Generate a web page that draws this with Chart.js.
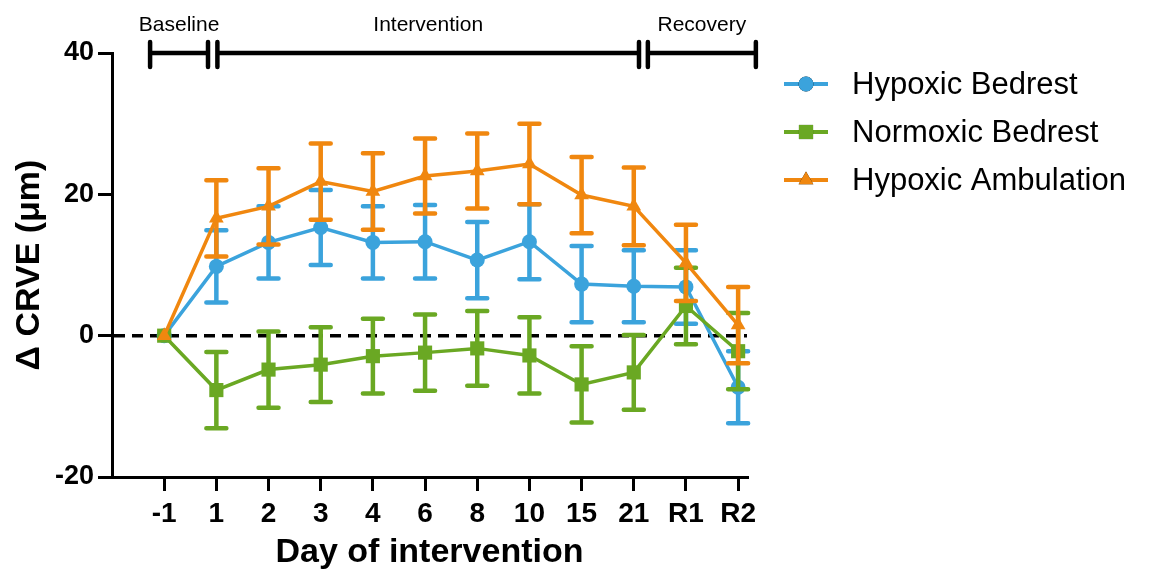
<!DOCTYPE html>
<html>
<head>
<meta charset="utf-8">
<script src="https://cdn.jsdelivr.net/npm/chart.js"></script>
<style>
  html, body { margin: 0; padding: 0; background: #fff; }
  #wrap { width: 1165px; height: 575px; }
</style>
</head>
<body>
<div id="wrap"><canvas id="myChart" width="1165" height="575"></canvas></div>
<script>
// days on the x axis
const days = ['-1', '1', '2', '3', '4', '6', '8', '10', '15', '21', 'R1', 'R2'];

// mean change and error per group
const hypoxicBedrest = [0, 9.8, 13.2, 15.3, 13.2, 13.3, 10.7, 13.3, 7.3, 7.0, 6.9, -7.3];
const hypoxicBedrestErr = [0, 5.1, 5.1, 5.3, 5.1, 5.2, 5.4, 5.3, 5.4, 5.1, 5.2, 5.1];
const normoxicBedrest = [0, -7.7, -4.8, -4.1, -2.9, -2.4, -1.8, -2.8, -6.9, -5.2, 4.2, -2.2];
const normoxicBedrestErr = [0, 5.4, 5.4, 5.3, 5.3, 5.4, 5.3, 5.4, 5.4, 5.3, 5.4, 5.4];
const hypoxicAmbulation = [0, 16.6, 18.3, 21.8, 20.4, 22.6, 23.3, 24.3, 19.9, 18.3, 10.3, 1.5];
const hypoxicAmbulationErr = [0, 5.4, 5.4, 5.4, 5.4, 5.3, 5.3, 5.7, 5.4, 5.5, 5.4, 5.4];

// y ticks
const yTicks = [-20, 0, 20, 40];

// study phases (in x axis units)
const phases = ['Baseline', 'Intervention', 'Recovery'];
const phaseFrom = [-0.27, 1.02, 9.27];
const phaseTo = [0.84, 9.1, 11.34];

const FONT = '"Liberation Sans", Arial, Helvetica, sans-serif';
const BLUE = '#3ba3dc';
const GREEN = '#6aa823';
const ORANGE = '#f0870f';

const toPoints = vals => vals.map((v, i) => ({x: i, y: v}));

const data = {
  datasets: [{
    label: 'Hypoxic Bedrest',
    data: toPoints(hypoxicBedrest),
    errors: hypoxicBedrestErr,
    borderColor: BLUE,
    backgroundColor: BLUE,
    pointStyle: 'circle',
    pointRadius: 7.5,
    order: 2
  }, {
    label: 'Normoxic Bedrest',
    data: toPoints(normoxicBedrest),
    errors: normoxicBedrestErr,
    borderColor: GREEN,
    backgroundColor: GREEN,
    pointStyle: 'rect',
    pointRadius: 10,
    order: 1
  }, {
    label: 'Hypoxic Ambulation',
    data: toPoints(hypoxicAmbulation),
    errors: hypoxicAmbulationErr,
    borderColor: ORANGE,
    backgroundColor: ORANGE,
    pointStyle: 'triangle',
    pointRadius: 8.5,
    order: 0
  }]
};

// error bars, drawn under each dataset's line
const errorBars = {
  id: 'errorBars',
  beforeDatasetDraw(chart, args) {
    const ds = chart.data.datasets[args.index];
    const y = chart.scales.y;
    const ctx = chart.ctx;
    ctx.save();
    ctx.strokeStyle = ds.borderColor;
    ctx.lineWidth = 4.5;
    ctx.lineCap = 'round';
    args.meta.data.forEach((pt, i) => {
      const e = ds.errors[i];
      if (!e) return;
      const v = ds.data[i].y;
      const top = y.getPixelForValue(v + e);
      const bot = y.getPixelForValue(v - e);
      ctx.beginPath();
      ctx.moveTo(pt.x, top); ctx.lineTo(pt.x, bot);
      ctx.moveTo(pt.x - 10, top); ctx.lineTo(pt.x + 10, top);
      ctx.moveTo(pt.x - 10, bot); ctx.lineTo(pt.x + 10, bot);
      ctx.stroke();
    });
    ctx.restore();
  }
};

// dashed zero line
const zeroLine = {
  id: 'zeroLine',
  beforeDatasetsDraw(chart) {
    const {ctx, chartArea} = chart;
    const y0 = chart.scales.y.getPixelForValue(0);
    ctx.save();
    ctx.strokeStyle = '#000';
    ctx.lineWidth = 3.5;
    ctx.setLineDash([11, 7]);
    ctx.beginPath();
    ctx.moveTo(chartArea.left + 2, y0);
    ctx.lineTo(chartArea.right, y0);
    ctx.stroke();
    ctx.restore();
  }
};

// phase bars across the top
const phaseBars = {
  id: 'phaseBars',
  afterDraw(chart) {
    const ctx = chart.ctx;
    const xs = chart.scales.x;
    const yp = chart.scales.y.getPixelForValue(40);
    ctx.save();
    ctx.strokeStyle = '#000';
    ctx.fillStyle = '#000';
    ctx.lineWidth = 4.5;
    ctx.lineCap = 'round';
    ctx.font = '21px ' + FONT;
    ctx.textAlign = 'center';
    ctx.textBaseline = 'middle';
    phases.forEach((name, i) => {
      const x1 = xs.getPixelForValue(phaseFrom[i]);
      const x2 = xs.getPixelForValue(phaseTo[i]);
      ctx.beginPath();
      ctx.moveTo(x1, yp); ctx.lineTo(x2, yp);
      ctx.moveTo(x1, yp - 11); ctx.lineTo(x1, yp + 14);
      ctx.moveTo(x2, yp - 11); ctx.lineTo(x2, yp + 14);
      ctx.stroke();
      ctx.fillText(name, (x1 + x2) / 2, yp - 28);
    });
    ctx.restore();
  }
};

// legend on the right
const sideLegend = {
  id: 'sideLegend',
  afterDraw(chart) {
    const ctx = chart.ctx;
    ctx.save();
    ctx.font = '31px ' + FONT;
    ctx.textBaseline = 'middle';
    chart.data.datasets.forEach((ds, i) => {
      const y = 84 + i * 48;
      ctx.strokeStyle = ds.borderColor;
      ctx.lineWidth = 4;
      ctx.beginPath();
      ctx.moveTo(784, y); ctx.lineTo(828, y);
      ctx.stroke();
      Chart.helpers.drawPoint(ctx, {
        pointStyle: ds.pointStyle,
        radius: ds.pointRadius,
        rotation: 0,
        borderWidth: 0
      }, 806, y);
      ctx.fillStyle = ds.borderColor;
      ctx.fill();
      ctx.fillStyle = '#000';
      ctx.fillText(ds.label, 852, y + 1);
    });
    ctx.restore();
  }
};

const axisGrid = {
  display: true,
  drawOnChartArea: false,
  drawTicks: true,
  tickLength: 14,
  lineWidth: 3,
  color: '#000'
};

const config = {
  type: 'line',
  data: data,
  options: {
    responsive: false,
    animation: false,
    devicePixelRatio: 1,
    layout: { padding: { top: 53, right: 418, left: 0, bottom: 0 } },
    elements: {
      line: { borderWidth: 3.5, tension: 0 },
      point: { borderWidth: 0, hoverRadius: 8 }
    },
    scales: {
      x: {
        type: 'linear',
        min: -1,
        max: 11.17,
        afterBuildTicks: scale => { scale.ticks = days.map((d, i) => ({value: i})); },
        afterFit: scale => { scale.height = 98; },
        ticks: {
          autoSkip: false,
          maxRotation: 0,
          padding: 6,
          color: '#000',
          font: { family: FONT, size: 28, weight: 'bold' },
          callback: v => days[v]
        },
        grid: axisGrid,
        border: { display: true, width: 3, color: '#000' },
        title: {
          display: true,
          text: 'Day of intervention',
          color: '#000',
          font: { family: FONT, size: 34, weight: 'bold' },
          padding: { top: 0, bottom: 2 }
        }
      },
      y: {
        min: -20,
        max: 40,
        afterBuildTicks: scale => { scale.ticks = yTicks.map(v => ({value: v})); },
        afterFit: scale => { scale.width = 112; },
        ticks: {
          padding: 4,
          color: '#000',
          font: { family: FONT, size: 27, weight: 'bold' }
        },
        grid: axisGrid,
        border: { display: true, width: 3, color: '#000' },
        title: {
          display: true,
          text: 'Δ CRVE (μm)',
          color: '#000',
          font: { family: FONT, size: 34, weight: 'bold' },
          padding: { top: 9, bottom: 0 }
        }
      }
    },
    plugins: {
      legend: { display: false },
      tooltip: { enabled: false }
    }
  },
  plugins: [zeroLine, errorBars, phaseBars, sideLegend]
};

const myChart = new Chart(document.getElementById('myChart'), config);
</script>
</body>
</html>
